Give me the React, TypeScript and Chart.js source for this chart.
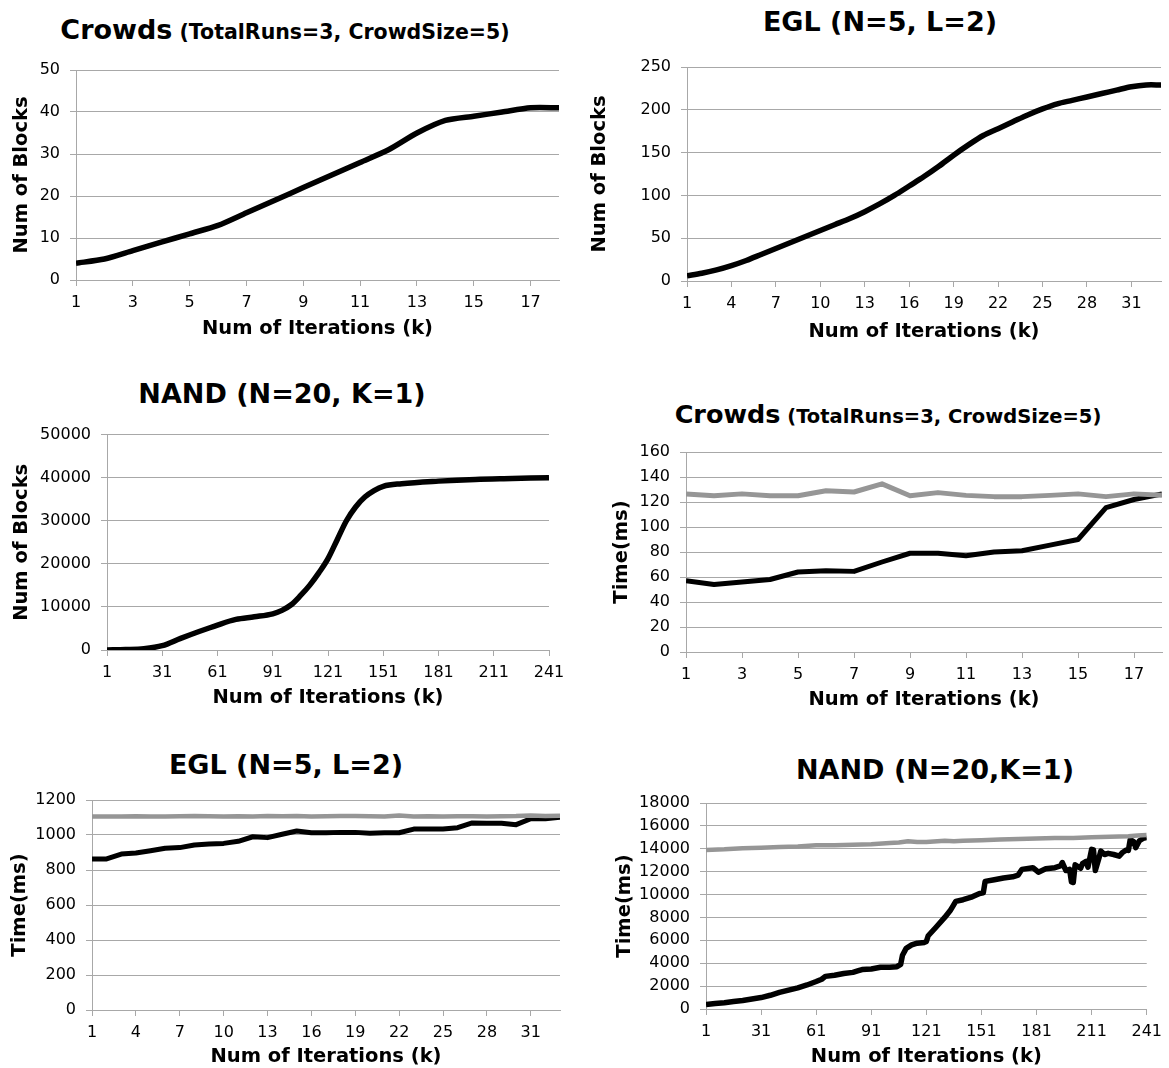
import React, { useEffect, useRef } from "react";
import { Chart, registerables } from "chart.js";
Chart.register(...registerables);

const FONT = "'DejaVu Sans', Verdana, sans-serif";
const GRID = "#a8a8a8";
const BLACK = "#000000";
const GRAY = "#969696";

// ---------- data ----------
const CROWDS_ITER = [1, 2, 3, 4, 5, 6, 7, 8, 9, 10, 11, 12, 13, 14, 15, 16, 17, 18];
const CROWDS_X_TICKS = [1, 3, 5, 7, 9, 11, 13, 15, 17];
const CROWDS_BLOCKS = [4, 5, 7, 9, 11, 13, 16, 19, 22, 25, 28, 31, 35, 38, 39, 40, 41, 41];
const CROWDS_TIME_A = [57, 54, 56, 58, 64, 65, 64.5, 72, 79, 79, 77, 80, 81, 85.5, 90, 115.5, 122, 126.5];
const CROWDS_TIME_B = [126.5, 125, 126.5, 125, 125, 129, 128, 134.5, 125, 127.5, 125.3, 124.3, 124.3, 125.3, 126.5, 124.3, 126.5, 125.3];

const EGL_ITER = [1, 2, 3, 4, 5, 6, 7, 8, 9, 10, 11, 12, 13, 14, 15, 16, 17, 18, 19, 20, 21, 22, 23, 24, 25, 26, 27, 28, 29, 30, 31, 32, 33];
const EGL_X_TICKS = [1, 4, 7, 10, 13, 16, 19, 22, 25, 28, 31];
const EGL_BLOCKS = [6, 9, 13, 18, 24, 31, 38, 45, 52, 59, 66, 73, 81, 90, 100, 111, 122, 134, 147, 159, 170, 178, 186, 194, 201, 207, 211, 215, 219, 223, 227, 229, 229];
const EGL_TIME_A = [863, 863, 891, 897, 910, 924, 928, 943, 949, 952, 964, 990, 985, 1004, 1023, 1013, 1013, 1015, 1015, 1010, 1013, 1013, 1034, 1034, 1034, 1042, 1069, 1067, 1067, 1059, 1093, 1093, 1101];
const EGL_TIME_B = [1105, 1106, 1106, 1107, 1106, 1106, 1107, 1108, 1107, 1106, 1107, 1106, 1108, 1107, 1108, 1106, 1107, 1108, 1108, 1107, 1106, 1112, 1106, 1107, 1106, 1107, 1107, 1106, 1107, 1108, 1112, 1109, 1110];

const NAND_X_TICKS = [1, 31, 61, 91, 121, 151, 181, 211, 241];
const NAND_BLOCKS_ITER = [1, 11, 21, 31, 41, 51, 61, 71, 81, 91, 96, 101, 106, 111, 116, 121, 126, 131, 136, 141, 146, 151, 161, 181, 201, 221, 241];
const NAND_BLOCKS = [0, 100, 300, 1000, 2700, 4300, 5800, 7100, 7700, 8400, 9200, 10500, 12600, 15000, 17900, 21200, 25600, 30000, 33200, 35500, 37000, 38000, 38600, 39200, 39600, 39800, 40000];

const NAND_TIME_A_ITER = [1, 6, 11, 16, 21, 26, 31, 36, 41, 46, 51, 56, 61, 64, 66, 71, 76, 81, 84, 86, 91, 96, 101, 105, 107, 108, 110, 113, 116, 120, 121, 122, 126, 131, 134, 137, 141, 146, 150, 152, 153, 158, 163, 168, 171, 173, 179, 182, 186, 191, 194, 195, 197, 199, 200, 201, 202, 205, 206, 208, 209, 211, 212, 213, 215, 216, 218, 220, 223, 226, 228, 230, 231, 232, 234, 235, 237, 239, 241];
const NAND_TIME_A = [400, 480, 550, 650, 750, 880, 1000, 1200, 1450, 1650, 1850, 2100, 2400, 2600, 2850, 2950, 3100, 3200, 3350, 3450, 3500, 3650, 3650, 3700, 3900, 4700, 5300, 5600, 5750, 5820, 5900, 6400, 7100, 8000, 8600, 9400, 9550, 9800, 10100, 10150, 11150, 11300, 11450, 11550, 11700, 12200, 12350, 11950, 12250, 12350, 12500, 12800, 12100, 12200, 11100, 11050, 12600, 12300, 12700, 12900, 12400, 13950, 13900, 12100, 13200, 13800, 13500, 13600, 13500, 13350, 13700, 13900, 13850, 14800, 14600, 14100, 14700, 14900, 15000];
const NAND_TIME_B_ITER = [1, 11, 21, 31, 41, 51, 61, 71, 81, 91, 101, 106, 111, 116, 121, 131, 136, 141, 151, 161, 171, 181, 191, 201, 211, 221, 231, 236, 241];
const NAND_TIME_B = [13900, 13950, 14050, 14100, 14150, 14200, 14300, 14300, 14350, 14400, 14500, 14550, 14650, 14600, 14600, 14700, 14650, 14700, 14750, 14800, 14850, 14900, 14950, 14950, 15000, 15050, 15100, 15150, 15200];

// ---------- chart panel ----------
type Series = { x: number[]; y: number[]; color: string; width: number; tension: number; monotone?: boolean };
type Spec = {
  canvas: [number, number, number, number];
  plot: [number, number, number, number];
  yTitle: string;
  yTitleX: number;
  xTitleY: number;
  xMin: number;
  xMax: number;
  xTicks: number[];
  yMax: number;
  yStep: number;
  series: Series[];
};

const TICK_SIZE = 16;
const AXIS_TITLE_SIZE = 19.5;
const AXIS_LH = 1.1;

function Panel({ spec }: { spec: Spec }) {
  const ref = useRef<HTMLCanvasElement>(null);
  const [cl, ct, cw, ch] = spec.canvas;
  useEffect(() => {
    const c = ref.current!;
    const [L, T, R, B] = spec.plot;
    const half = (AXIS_TITLE_SIZE * AXIS_LH) / 2;
    const chart = new Chart(c, {
      type: "line",
      data: {
        datasets: spec.series.map((s) => ({
          data: s.x.map((x, i) => ({ x, y: s.y[i] })),
          borderColor: s.color,
          backgroundColor: s.color,
          borderWidth: s.width,
          pointRadius: 0,
          tension: s.tension,
          cubicInterpolationMode: s.monotone ? "monotone" : "default",
          fill: false,
          borderJoinStyle: "round",
          borderCapStyle: "butt",
        })) as any,
      },
      options: {
        responsive: false,
        animation: false,
        devicePixelRatio: 1,
        layout: { padding: { left: 0, top: T - ct, right: cl + cw - R, bottom: 0 } },
        plugins: { legend: { display: false }, tooltip: { enabled: false }, title: { display: false } },
        scales: {
          x: {
            type: "linear",
            min: spec.xMin,
            max: spec.xMax,
            afterBuildTicks: (s: any) => {
              s.ticks = spec.xTicks.map((v) => ({ value: v }));
            },
            afterFit: (s: any) => {
              s.height = ct + ch - B;
            },
            grid: { drawOnChartArea: false, drawTicks: true, tickLength: 6, color: GRID },
            border: { display: true, color: GRID, width: 1 },
            ticks: {
              color: "#000",
              font: { family: FONT, size: TICK_SIZE },
              padding: 7,
              maxRotation: 0,
              autoSkip: false,
              callback: (v: any) => String(v),
            },
            title: {
              display: true,
              text: "Num of Iterations (k)",
              color: "#000",
              font: { family: FONT, size: AXIS_TITLE_SIZE, weight: "bold", lineHeight: AXIS_LH },
              padding: { top: 0, bottom: Math.max(0, ct + ch - spec.xTitleY - half) },
            },
          },
          y: {
            type: "linear",
            min: 0,
            max: spec.yMax,
            afterFit: (s: any) => {
              s.width = L - cl;
            },
            grid: { color: GRID, tickLength: 6, drawTicks: true },
            border: { display: true, color: GRID, width: 1 },
            ticks: {
              stepSize: spec.yStep,
              color: "#000",
              font: { family: FONT, size: TICK_SIZE },
              padding: 10,
              callback: (v: any) => String(v),
            },
            title: {
              display: true,
              text: spec.yTitle,
              color: "#000",
              font: { family: FONT, size: AXIS_TITLE_SIZE, weight: "bold", lineHeight: AXIS_LH },
              padding: { top: Math.max(0, spec.yTitleX - cl - half), bottom: 0 },
            },
          },
        },
      } as any,
    });
    return () => chart.destroy();
  }, []);
  return (
    <canvas
      ref={ref}
      width={cw}
      height={ch}
      style={{ position: "absolute", left: cl, top: ct, width: cw, height: ch }}
    />
  );
}

function Title({ cx, cy, main, sub, size, subSize }: { cx: number; cy: number; main: string; sub?: string; size: number; subSize?: number }) {
  return (
    <div
      style={{
        position: "absolute",
        left: cx - 350,
        width: 700,
        top: cy - 20,
        height: 40,
        lineHeight: "40px",
        textAlign: "center",
        fontFamily: FONT,
        fontWeight: "bold",
        fontSize: size,
        color: "#000",
        whiteSpace: "nowrap",
      }}
    >
      {main}
      {sub ? <span style={{ fontSize: subSize }}>{sub}</span> : null}
    </div>
  );
}

const specs: Spec[] = [
  {
    canvas: [0, 48, 578, 297],
    plot: [76, 70, 559, 280],
    yTitle: "Num of Blocks",
    yTitleX: 22,
    xTitleY: 329,
    xMin: 1,
    xMax: 18,
    xTicks: CROWDS_X_TICKS,
    yMax: 50,
    yStep: 10,
    series: [{ x: CROWDS_ITER, y: CROWDS_BLOCKS, color: BLACK, width: 5.5, tension: 0.25 }],
  },
  {
    canvas: [580, 45, 589, 300],
    plot: [687, 67, 1161, 281],
    yTitle: "Num of Blocks",
    yTitleX: 600,
    xTitleY: 332,
    xMin: 1,
    xMax: 33,
    xTicks: EGL_X_TICKS,
    yMax: 250,
    yStep: 50,
    series: [{ x: EGL_ITER, y: EGL_BLOCKS, color: BLACK, width: 5.5, tension: 0.3 }],
  },
  {
    canvas: [0, 415, 578, 300],
    plot: [107, 434, 549, 650],
    yTitle: "Num of Blocks",
    yTitleX: 22,
    xTitleY: 698,
    xMin: 1,
    xMax: 241,
    xTicks: NAND_X_TICKS,
    yMax: 50000,
    yStep: 10000,
    series: [{ x: NAND_BLOCKS_ITER, y: NAND_BLOCKS, color: BLACK, width: 5.5, tension: 0.4, monotone: true }],
  },
  {
    canvas: [580, 432, 589, 285],
    plot: [686, 452, 1162, 652],
    yTitle: "Time(ms)",
    yTitleX: 622,
    xTitleY: 700,
    xMin: 1,
    xMax: 18,
    xTicks: CROWDS_X_TICKS,
    yMax: 160,
    yStep: 20,
    series: [
      { x: CROWDS_ITER, y: CROWDS_TIME_B, color: GRAY, width: 5, tension: 0 },
      { x: CROWDS_ITER, y: CROWDS_TIME_A, color: BLACK, width: 5, tension: 0 },
    ],
  },
  {
    canvas: [0, 780, 578, 288],
    plot: [92, 800, 560, 1010],
    yTitle: "Time(ms)",
    yTitleX: 20,
    xTitleY: 1058,
    xMin: 1,
    xMax: 33,
    xTicks: EGL_X_TICKS,
    yMax: 1200,
    yStep: 200,
    series: [
      { x: EGL_ITER, y: EGL_TIME_B, color: GRAY, width: 4.5, tension: 0 },
      { x: EGL_ITER, y: EGL_TIME_A, color: BLACK, width: 5, tension: 0 },
    ],
  },
  {
    canvas: [580, 780, 589, 288],
    plot: [706, 803, 1156, 1009],
    yTitle: "Time(ms)",
    yTitleX: 625,
    xTitleY: 1058,
    xMin: 1,
    xMax: 241,
    xTicks: NAND_X_TICKS,
    yMax: 18000,
    yStep: 2000,
    series: [
      { x: NAND_TIME_B_ITER, y: NAND_TIME_B, color: GRAY, width: 4.5, tension: 0 },
      { x: NAND_TIME_A_ITER, y: NAND_TIME_A, color: BLACK, width: 5.5, tension: 0 },
    ],
  },
];

export default function App() {
  return (
    <div style={{ position: "absolute", left: 0, top: 0, width: 1169, height: 1068, background: "#fff", overflow: "hidden" }}>
      <Title cx={285} cy={30} main="Crowds" sub=" (TotalRuns=3, CrowdSize=5)" size={27} subSize={20.5} />
      <Title cx={880} cy={22} main="EGL (N=5, L=2)" size={27} />
      <Title cx={282} cy={394} main="NAND (N=20, K=1)" size={27} />
      <Title cx={888} cy={414} main="Crowds" sub=" (TotalRuns=3, CrowdSize=5)" size={25.5} subSize={19.5} />
      <Title cx={286} cy={765} main="EGL (N=5, L=2)" size={27} />
      <Title cx={935} cy={770} main="NAND (N=20,K=1)" size={27} />
      {specs.map((s, i) => (
        <Panel key={i} spec={s} />
      ))}
    </div>
  );
}
